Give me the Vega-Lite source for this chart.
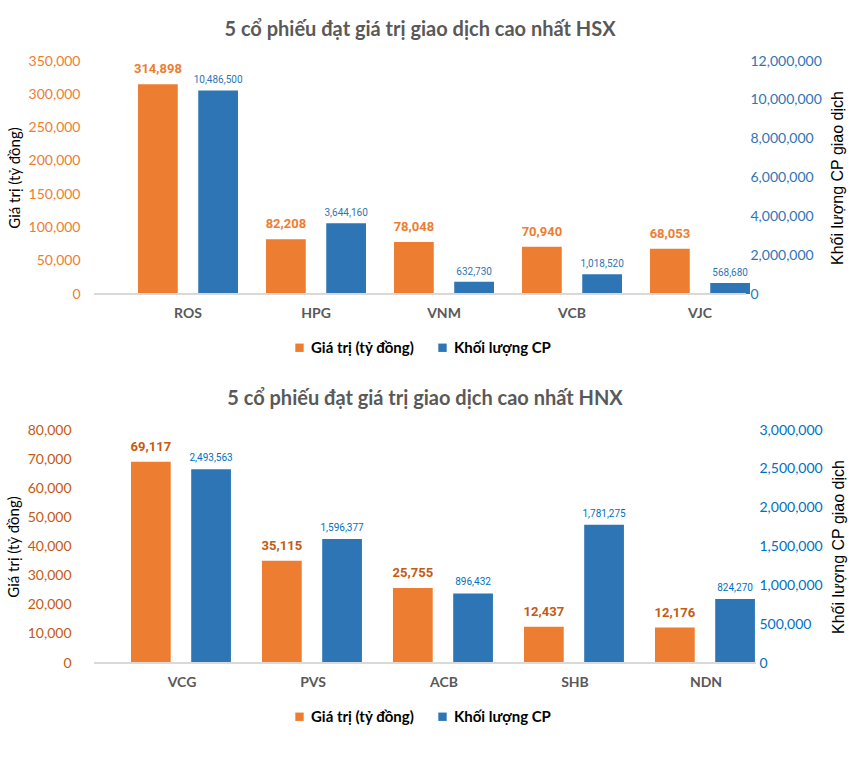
{
  "$schema": "https://vega.github.io/schema/vega-lite/v6.json",
  "background": "white",
  "padding": {"left": 6, "top": 20, "right": 4, "bottom": 4},
  "datasets": {
    "hsx": [
      {"ma": "ROS", "gia_tri": 314898, "khoi_luong": 10486500},
      {"ma": "HPG", "gia_tri": 82208, "khoi_luong": 3644160},
      {"ma": "VNM", "gia_tri": 78048, "khoi_luong": 632730},
      {"ma": "VCB", "gia_tri": 70940, "khoi_luong": 1018520},
      {"ma": "VJC", "gia_tri": 68053, "khoi_luong": 568680}
    ],
    "hnx": [
      {"ma": "VCG", "gia_tri": 69117, "khoi_luong": 2493563},
      {"ma": "PVS", "gia_tri": 35115, "khoi_luong": 1596377},
      {"ma": "ACB", "gia_tri": 25755, "khoi_luong": 896432},
      {"ma": "SHB", "gia_tri": 12437, "khoi_luong": 1781275},
      {"ma": "NDN", "gia_tri": 12176, "khoi_luong": 824270}
    ]
  },
  "columns": 1,
  "align": "none",
  "spacing": 33,
  "resolve": {"scale": {"color": "independent"}, "legend": {"color": "independent"}},
  "concat": [
    {
      "data": {"name": "hsx"},
      "width": 652,
      "height": 233,
      "title": {"text": "5 cổ phiếu đạt giá trị giao dịch cao nhất HSX", "font": "Lato", "fontSize": 20, "fontWeight": "bold", "color": "#595959", "anchor": "middle", "offset": 14},
      "layer": [
        {
          "encoding": {
            "y": {"field": "gia_tri", "type": "quantitative", "scale": {"domain": [0, 350000]},
              "axis": {"orient": "left", "title": "Giá trị (tỷ đồng)", "values": [0, 50000, 100000, 150000, 200000, 250000, 300000, 350000], "format": ",.0f", "grid": false, "domain": false, "ticks": false, "labelPadding": 14, "labelFont": "Lato", "labelFontSize": 14, "labelColor": "#ED7D31", "titleFont": "Lato", "titleFontSize": 15, "titleFontWeight": "normal", "titleColor": "#000000", "titlePadding": 6}}
          },
          "layer": [
            {
              "mark": {"type": "bar"},
              "encoding": {
                "x": {"field": "ma", "type": "nominal", "sort": null, "scale": {"range": [30, 670], "paddingInner": 0.219, "paddingOuter": 0.1095},
                  "axis": {"title": null, "domain": false, "ticks": false, "labelAngle": 0, "labelPadding": 12, "labelFont": "Lato", "labelFontWeight": "bold", "labelFontSize": 14, "labelColor": "#595959"}},
                "xOffset": {"datum": "Giá trị (tỷ đồng)", "scale": {"domain": ["Giá trị (tỷ đồng)", "Khối lượng CP"], "paddingInner": 0.34, "paddingOuter": 0}},
                "color": {"datum": "Giá trị (tỷ đồng)", "scale": {"domain": ["Giá trị (tỷ đồng)", "Khối lượng CP"], "range": ["#ED7D31", "#2E75B6"]},
                  "legend": {"orient": "none", "legendX": 198, "legendY": 279, "direction": "horizontal", "title": null, "symbolType": "square", "symbolSize": 70, "symbolStrokeWidth": 0, "labelFont": "Lato", "labelFontSize": 15, "labelFontWeight": "bold", "labelColor": "#000000", "columnPadding": 20}}
              }
            },
            {
              "mark": {"type": "text", "font": "Roboto", "fontWeight": "bold", "fontSize": 13, "color": "#ED7D31", "baseline": "alphabetic", "dy": -11},
              "encoding": {
                "x": {"field": "ma", "type": "nominal", "sort": null},
                "xOffset": {"datum": "Giá trị (tỷ đồng)"},
                "text": {"field": "gia_tri", "type": "quantitative", "format": ","}
              }
            }
          ]
        },
        {
          "encoding": {
            "y": {"field": "khoi_luong", "type": "quantitative", "scale": {"domain": [0, 12000000]},
              "axis": {"orient": "right", "title": "Khối lượng CP giao dịch", "titleAngle": 270, "titleBaseline": "top", "values": [0, 2000000, 4000000, 6000000, 8000000, 10000000, 12000000], "format": ",.0f", "grid": false, "domain": false, "ticks": false, "labelPadding": 4, "labelFont": "Lato", "labelFontSize": 14, "labelColor": "#2E75B6", "titleFont": "Liberation Sans", "titleFontSize": 16, "titleFontWeight": "normal", "titleColor": "#000000", "titlePadding": 8}}
          },
          "layer": [
            {
              "mark": {"type": "bar"},
              "encoding": {
                "x": {"field": "ma", "type": "nominal", "sort": null},
                "xOffset": {"datum": "Khối lượng CP"},
                "color": {"datum": "Khối lượng CP"}
              }
            },
            {
              "mark": {"type": "text", "font": "Roboto", "fontSize": 10, "color": "#2E75B6", "baseline": "alphabetic", "dy": -7},
              "encoding": {
                "x": {"field": "ma", "type": "nominal", "sort": null},
                "xOffset": {"datum": "Khối lượng CP"},
                "text": {"field": "khoi_luong", "type": "quantitative", "format": ","}
              }
            }
          ]
        },
        {
          "mark": {"type": "rule", "color": "#D9D9D9", "strokeWidth": 2},
          "encoding": {"y": {"datum": 0, "scale": {"domain": [0, 350000]}, "axis": null}}
        }
      ],
      "resolve": {"scale": {"y": "independent"}}
    },
    {
      "data": {"name": "hnx"},
      "width": 662,
      "height": 233,
      "title": {"text": "5 cổ phiếu đạt giá trị giao dịch cao nhất HNX", "font": "Lato", "fontSize": 20, "fontWeight": "bold", "color": "#595959", "anchor": "middle", "offset": 14},
      "layer": [
        {
          "encoding": {
            "y": {"field": "gia_tri", "type": "quantitative", "scale": {"domain": [0, 80000]},
              "axis": {"orient": "left", "title": "Giá trị (tỷ đồng)", "values": [0, 10000, 20000, 30000, 40000, 50000, 60000, 70000, 80000], "format": ",.0f", "grid": false, "domain": false, "ticks": false, "labelPadding": 23, "labelFont": "Lato", "labelFontSize": 14, "labelColor": "#C55A11", "titleFont": "Lato", "titleFontSize": 15, "titleFontWeight": "normal", "titleColor": "#000000", "titlePadding": 6}}
          },
          "layer": [
            {
              "mark": {"type": "bar"},
              "encoding": {
                "x": {"field": "ma", "type": "nominal", "sort": null, "scale": {"range": [22.5, 677.5], "paddingInner": 0.221, "paddingOuter": 0.1105},
                  "axis": {"title": null, "domain": false, "ticks": false, "labelAngle": 0, "labelPadding": 12, "labelFont": "Lato", "labelFontWeight": "bold", "labelFontSize": 14, "labelColor": "#595959"}},
                "xOffset": {"datum": "Giá trị (tỷ đồng)", "scale": {"domain": ["Giá trị (tỷ đồng)", "Khối lượng CP"], "paddingInner": 0.34, "paddingOuter": 0}},
                "color": {"datum": "Giá trị (tỷ đồng)", "scale": {"domain": ["Giá trị (tỷ đồng)", "Khối lượng CP"], "range": ["#ED7D31", "#2E75B6"]},
                  "legend": {"orient": "none", "legendX": 198, "legendY": 279, "direction": "horizontal", "title": null, "symbolType": "square", "symbolSize": 70, "symbolStrokeWidth": 0, "labelFont": "Lato", "labelFontSize": 15, "labelFontWeight": "bold", "labelColor": "#000000", "columnPadding": 20}}
              }
            },
            {
              "mark": {"type": "text", "font": "Roboto", "fontWeight": "bold", "fontSize": 13, "color": "#C55A11", "baseline": "alphabetic", "dy": -11},
              "encoding": {
                "x": {"field": "ma", "type": "nominal", "sort": null},
                "xOffset": {"datum": "Giá trị (tỷ đồng)"},
                "text": {"field": "gia_tri", "type": "quantitative", "format": ","}
              }
            }
          ]
        },
        {
          "encoding": {
            "y": {"field": "khoi_luong", "type": "quantitative", "scale": {"domain": [0, 3000000]},
              "axis": {"orient": "right", "title": "Khối lượng CP giao dịch", "titleAngle": 270, "titleBaseline": "top", "values": [0, 500000, 1000000, 1500000, 2000000, 2500000, 3000000], "format": ",.0f", "grid": false, "domain": false, "ticks": false, "labelPadding": 3, "labelFont": "Lato", "labelFontSize": 14, "labelColor": "#0070C0", "titleFont": "Liberation Sans", "titleFontSize": 16, "titleFontWeight": "normal", "titleColor": "#000000", "titlePadding": 8}}
          },
          "layer": [
            {
              "mark": {"type": "bar"},
              "encoding": {
                "x": {"field": "ma", "type": "nominal", "sort": null},
                "xOffset": {"datum": "Khối lượng CP"},
                "color": {"datum": "Khối lượng CP"}
              }
            },
            {
              "mark": {"type": "text", "font": "Roboto", "fontSize": 10, "color": "#0070C0", "baseline": "alphabetic", "dy": -8},
              "encoding": {
                "x": {"field": "ma", "type": "nominal", "sort": null},
                "xOffset": {"datum": "Khối lượng CP"},
                "text": {"field": "khoi_luong", "type": "quantitative", "format": ","}
              }
            }
          ]
        },
        {
          "mark": {"type": "rule", "color": "#D9D9D9", "strokeWidth": 2},
          "encoding": {"y": {"datum": 0, "scale": {"domain": [0, 80000]}, "axis": null}}
        }
      ],
      "resolve": {"scale": {"y": "independent"}}
    }
  ],
  "config": {
    "view": {"stroke": null},
    "axis": {"grid": false}
  }
}
